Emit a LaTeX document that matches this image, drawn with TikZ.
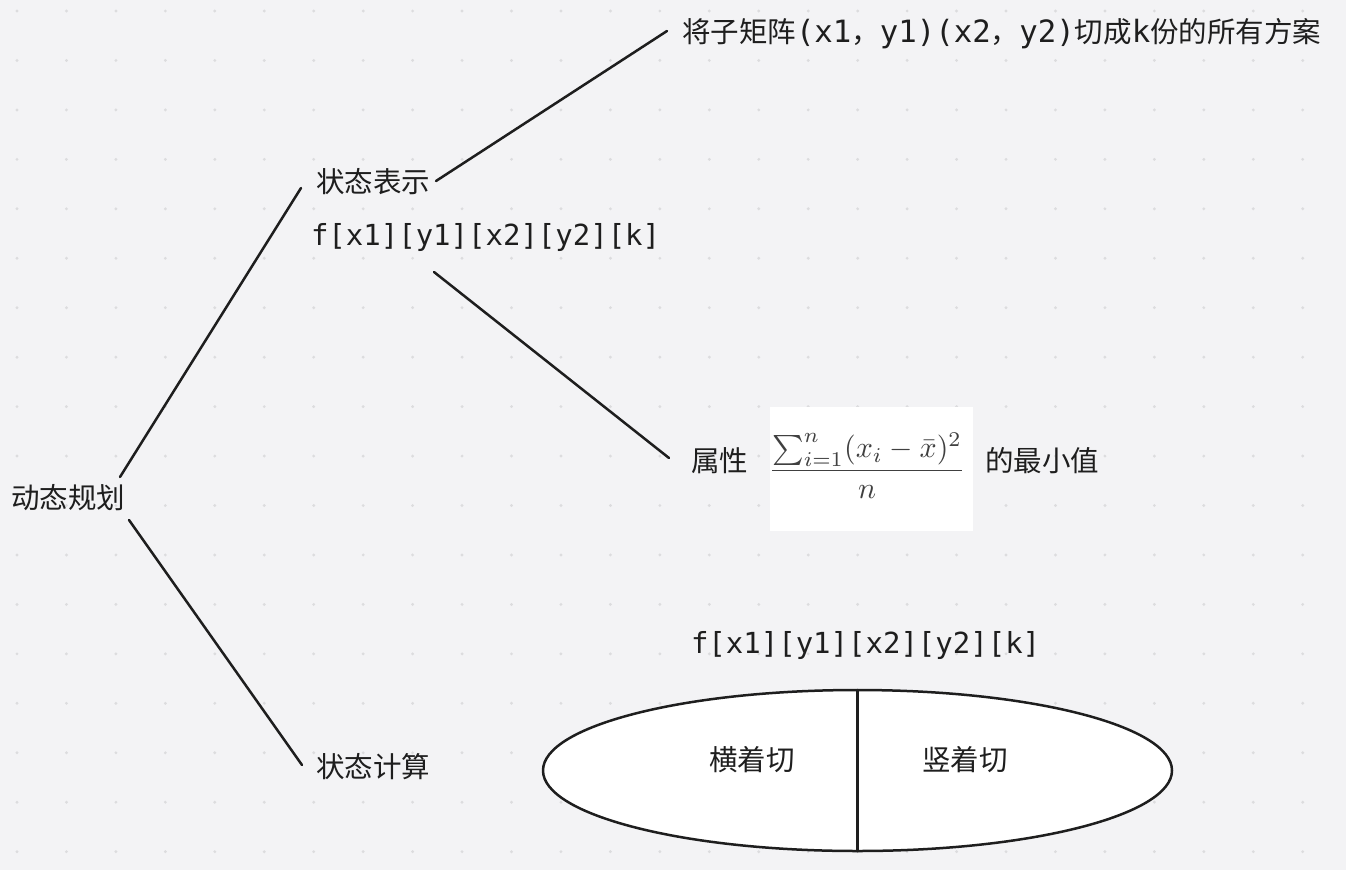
\documentclass[tikz,border=0pt]{standalone}
\usepackage{fontspec}
\usepackage{graphicx}
\setmainfont{Noto Sans CJK SC}
\newfontfamily\monof{DejaVu Sans Mono}
\usetikzlibrary{shapes.geometric,calc}
\definecolor{bg}{HTML}{F3F3F5}
\definecolor{dotc}{HTML}{DCDCDE}
\definecolor{ink}{HTML}{1E1E1E}
\tikzset{
  lbl/.style={inner sep=0pt, outer sep=0pt, text=ink, font=\fontsize{28.5}{32}\selectfont, anchor=west},
  mono/.style={inner sep=0pt, outer sep=0pt, text=ink, font=\fontsize{29}{32}\monof, anchor=west},
  conn/.style={draw=ink, line width=2.5pt, line cap=round},
}
\newcommand{\mlat}[1]{{\fontsize{30.7}{32}\monof #1}}
\begin{document}
\begin{tikzpicture}[x=1pt,y=-1pt]
\useasboundingbox (0,0) rectangle (1346,870);
\fill[bg] (0,0) rectangle (1346,870);
\foreach \i in {0,...,26}{
  \foreach \j in {0,...,17}{
    \fill[dotc] ({17+49.45*\i},{11+49.45*\j}) circle (1.6);
  }
}
% nodes
\node[lbl] (dp) at (11,498) {动态规划};
\node[lbl] (zt) at (316,182) {状态表示};
\node[mono] (zf) at (311,237) {f[x1][y1][x2][y2][k]};
\node[lbl] (top) at (682,34) {将子矩阵\mlat{(x1}，\mlat{y1)(x2}，\mlat{y2)}切成\mlat{k}份的所有方案};
\node[lbl] (sx) at (691,461) {属性};
\node[fill=white, minimum width=203, minimum height=124, inner sep=0pt, anchor=north west] (fbox) at (770,407) {};
\node[inner sep=0pt, text=ink!85] (formula) at (867,466) {\scalebox{3.0}{$\displaystyle\frac{\sum_{i=1}^{n}(x_i-\bar{x})^2}{n}$}};
\node[lbl] (zx) at (985,461) {的最小值};
\node[lbl] (zj) at (316,767) {状态计算};
\node[mono] (bf) at (691,645) {f[x1][y1][x2][y2][k]};
\node[draw=ink, line width=2.5pt, fill=white, ellipse, minimum width=629, minimum height=161, inner sep=0pt, outer sep=0pt] (el) at (857.5,770.5) {};
\draw[conn] (el.north) -- (el.south);
\node[lbl, anchor=center] (hq) at (752,760) {横着切};
\node[lbl, anchor=center] (sq) at (965,760) {竖着切};
% connectors
\draw[conn] ([shift={(-5,-21)}]dp.east) -- ([shift={(-15,6)}]zt.west);
\draw[conn] ([shift={(4,22)}]dp.east) -- ([shift={(-14,-2)}]zj.west);
\draw[conn] ([shift={(6,-1)}]zt.east) -- ([shift={(-15,-3)}]top.west);
\draw[conn] ([shift={(123,35)}]zf.west) -- ([shift={(-22,-3)}]sx.west);
\end{tikzpicture}
\end{document}
